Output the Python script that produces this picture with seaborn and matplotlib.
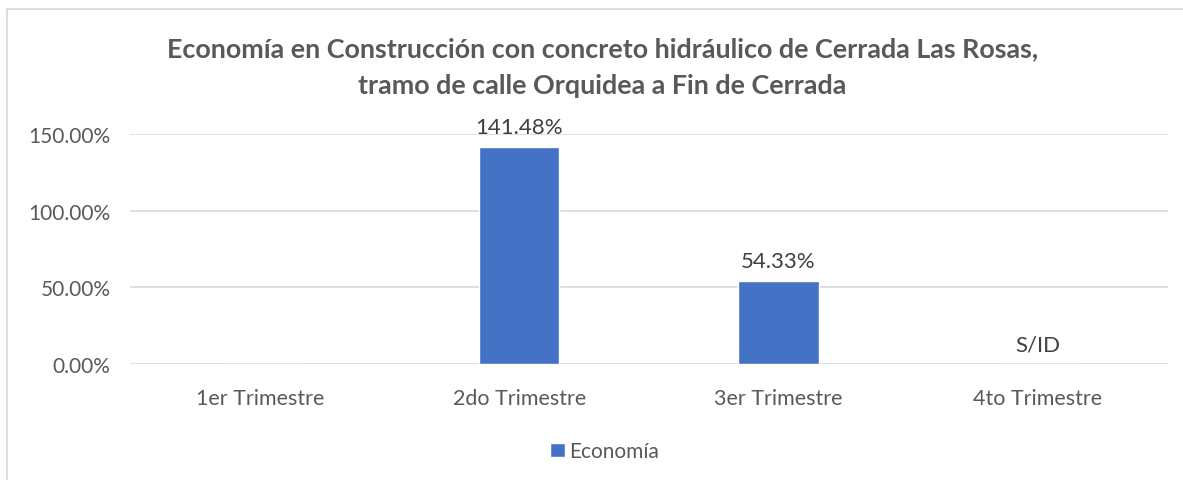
import pandas as pd
import seaborn as sns
import matplotlib.pyplot as plt
from matplotlib.lines import Line2D
from matplotlib.ticker import FuncFormatter

# Data
trimestres = ['1er Trimestre', '2do Trimestre', '3er Trimestre', '4to Trimestre']
economia = [0.0, 141.48, 54.33, 0.0]
etiquetas = ['', '141.48%', '54.33%', 'S/ID']

df = pd.DataFrame({'trimestre': trimestres, 'economia': economia})

sns.set_theme(style='white')
plt.rcParams['font.family'] = ['Lato', 'DejaVu Sans']
gris = '#595959'
azul = '#4472C4'

fig = plt.figure(figsize=(11.83, 4.81), dpi=100)
ax = fig.add_axes([0.110, 0.2412, 0.877, 0.4781])

sns.barplot(data=df, x='trimestre', y='economia', color=azul, width=0.31,
            saturation=1, ax=ax, label='Economía')

ax.set_ylim(0, 150)
ax.set_yticks([0, 50, 100, 150])
ax.yaxis.set_major_formatter(FuncFormatter(lambda v, p: f'{v:.2f}%'))
ax.grid(axis='y', color='#d9d9d9', linewidth=1.2)
ax.set_axisbelow(True)
for s in ax.spines.values():
    s.set_visible(False)
ax.set_xlabel('')
ax.set_ylabel('')
ax.tick_params(axis='both', colors=gris, length=0)
ax.tick_params(axis='y', labelsize=15, pad=14)
ax.tick_params(axis='x', labelsize=15.5, pad=17)

ax.bar_label(ax.containers[0], labels=etiquetas, padding=7, fontsize=16, color='#404040')

fig.suptitle('Economía en Construcción con concreto hidráulico de Cerrada Las Rosas,\n'
             'tramo de calle Orquidea a Fin de Cerrada',
             x=0.509, y=0.922, fontsize=19.4, fontweight='bold', color=gris, linespacing=1.6)

leg = ax.legend(loc='center', bbox_to_anchor=(0.511, 0.06), bbox_transform=fig.transFigure,
                frameon=False, fontsize=15, handlelength=0.7, handleheight=0.7,
                handletextpad=0.2)
for t in leg.get_texts():
    t.set_color(gris)

# chart border
fig.add_artist(Line2D([7 / 1183, 7 / 1183], [0, 1 - 10 / 481], transform=fig.transFigure,
                      color='#d9d9d9', linewidth=1.2))
fig.add_artist(Line2D([7 / 1183, 1], [1 - 10 / 481, 1 - 10 / 481], transform=fig.transFigure,
                      color='#d9d9d9', linewidth=1.2))

fig.savefig('out.png', dpi=100)
